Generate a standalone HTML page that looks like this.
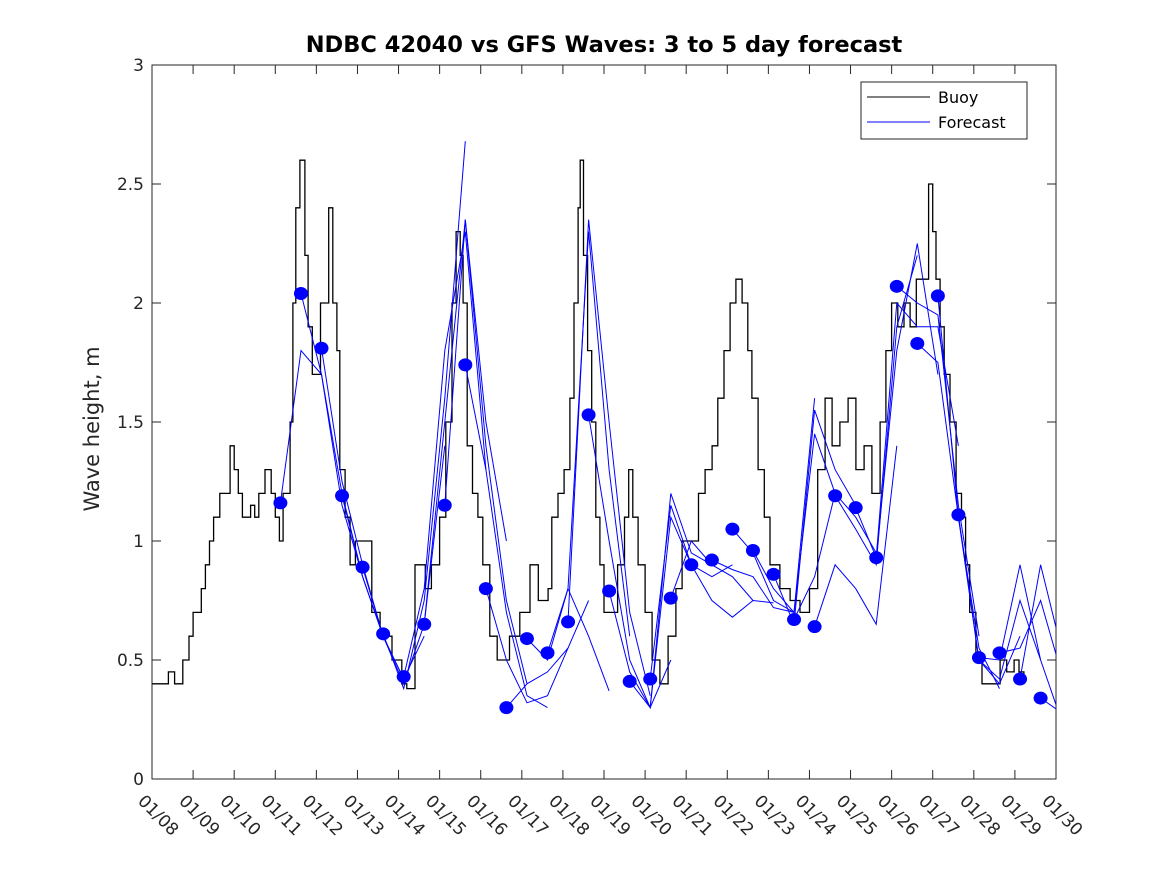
<!DOCTYPE html>
<html><head><meta charset="utf-8"><style>
body{margin:0;background:#fff;}
svg{display:block;font-family:"DejaVu Sans","Liberation Sans",sans-serif;}
</style></head><body>
<svg id="chart" width="1167" height="875" viewBox="0 0 1167 875" xmlns="http://www.w3.org/2000/svg">
<rect x="0" y="0" width="1167" height="875" fill="#fff"/>
<text x="604" y="52" text-anchor="middle" font-size="22.5" font-weight="bold" fill="#000">NDBC 42040 vs GFS Waves: 3 to 5 day forecast</text>
<text transform="translate(99,429) rotate(-90)" text-anchor="middle" font-size="21" fill="#262626">Wave height, m</text>
<g id="axes"></g>
<g id="plot"></g>
<g>
<rect x="861" y="82" width="166" height="57" fill="#fff" stroke="#262626" stroke-width="1"/>
<line x1="867" y1="97" x2="930" y2="97" stroke="#000" stroke-width="1"/>
<text x="938" y="103" font-size="16" fill="#000">Buoy</text>
<line x1="867" y1="122" x2="930" y2="122" stroke="#0000ff" stroke-width="1"/>
<text x="938" y="128" font-size="16" fill="#000">Forecast</text>
</g>
</svg>
<script>
const xTickLabels=["01/08","01/09","01/10","01/11","01/12","01/13","01/14","01/15","01/16","01/17","01/18","01/19","01/20","01/21","01/22","01/23","01/24","01/25","01/26","01/27","01/28","01/29","01/30"];
const yTicks=[0,0.5,1,1.5,2,2.5,3];
const yTickLabels=["0","0.5","1","1.5","2","2.5","3"];
const buoyDays=[0,0.4,0.55,0.75,0.9,1.0,1.2,1.3,1.4,1.5,1.65,1.9,2.0,2.1,2.2,2.4,2.5,2.6,2.75,2.9,3.0,3.1,3.19,3.36,3.43,3.5,3.6,3.72,3.8,3.9,4.0,4.1,4.3,4.4,4.5,4.57,4.7,4.82,4.95,5.2,5.35,5.55,5.84,6.08,6.2,6.4,6.65,6.8,7.0,7.15,7.3,7.4,7.5,7.57,7.67,7.8,7.93,8.05,8.22,8.4,8.6,8.7,8.95,9.2,9.4,9.64,9.73,9.88,10.03,10.17,10.27,10.37,10.42,10.5,10.6,10.7,10.8,10.9,11.0,11.2,11.33,11.5,11.6,11.7,11.83,12.0,12.17,12.36,12.56,12.75,12.9,13.1,13.3,13.46,13.63,13.77,13.92,14.07,14.21,14.36,14.5,14.6,14.75,14.9,15.04,15.28,15.53,15.77,16.0,16.2,16.38,16.55,16.74,16.94,17.13,17.33,17.52,17.72,17.86,18.0,18.15,18.3,18.45,18.6,18.74,18.9,19.0,19.08,19.18,19.28,19.42,19.57,19.7,19.8,19.9,20.05,20.2,20.4,20.64,20.8,20.98,21.1,21.22];
const buoyValues=[0.4,0.45,0.4,0.5,0.6,0.7,0.8,0.9,1.0,1.1,1.2,1.4,1.3,1.2,1.1,1.15,1.1,1.2,1.3,1.2,1.1,1.0,1.2,1.5,2.0,2.4,2.6,2.2,1.9,1.7,1.7,2.0,2.4,2.0,1.8,1.3,1.1,0.9,1.0,1.0,0.7,0.6,0.5,0.4,0.38,0.9,0.8,0.9,1.1,1.5,2.0,2.3,2.2,2.0,1.4,1.2,1.1,0.9,0.6,0.5,0.5,0.6,0.7,0.9,0.75,0.8,1.1,1.2,1.3,1.6,2.0,2.4,2.6,2.2,1.8,1.5,1.1,0.9,0.7,0.7,0.9,1.1,1.3,1.1,0.9,0.7,0.5,0.4,0.6,0.8,1.0,1.0,1.2,1.3,1.4,1.6,1.8,2.0,2.1,2.0,1.8,1.6,1.3,1.1,0.9,0.8,0.75,0.7,0.8,1.3,1.6,1.4,1.5,1.6,1.3,1.4,1.2,1.5,1.8,2.0,1.9,2.0,1.9,2.1,2.1,2.5,2.3,2.1,1.9,1.7,1.5,1.2,1.1,0.9,0.7,0.5,0.4,0.4,0.5,0.45,0.5,0.45,0.4];
const forecastStart=3.125;
const dotValues=[1.16,2.04,1.81,1.19,0.89,0.61,0.43,0.65,1.15,1.74,0.80,0.30,0.59,0.53,0.66,1.53,0.79,0.41,0.42,0.76,0.90,0.92,1.05,0.96,0.86,0.67,0.64,1.19,1.14,0.93,2.07,1.83,2.03,1.11,0.51,0.53,0.42,0.34];
const forecastValues=[
[1.16,1.8,1.7,1.2,0.85],[2.04,1.7,1.15,0.85,0.6],[1.81,1.25,0.9,0.6,0.42],[1.19,0.85,0.6,0.42,0.6],
[0.89,0.6,0.4,0.65,1.4],[0.61,0.38,0.75,1.6,2.68],[0.43,0.8,1.8,2.3,1.3],[0.65,1.5,2.35,1.5,1.0],
[1.15,2.35,1.4,0.75,0.4],[1.74,1.3,0.7,0.35,0.3],[0.8,0.5,0.32,0.35,0.55],[0.30,0.4,0.45,0.55,0.75],
[0.59,0.5,0.8,0.6,0.37],[0.53,0.8,2.3,1.3,0.6],[0.66,2.35,1.5,0.7,0.35],[1.53,1.0,0.5,0.3,0.5],
[0.79,0.45,0.3,1.1,0.9],[0.41,0.3,1.2,0.95,0.9],[0.42,1.15,0.9,0.85,0.9],[0.76,1.0,0.9,0.85,0.75],
[0.90,0.75,0.68,0.75,0.74],[0.92,0.88,0.85,0.72,0.7],[1.05,0.95,0.75,0.7,1.6],[0.96,0.8,0.7,1.45,1.2],
[0.86,0.65,1.55,1.3,1.15],[0.67,0.85,1.2,1.1,0.95],[0.64,0.9,0.8,0.65,1.4],[1.19,1.05,0.9,1.9,2.2],
[1.14,0.93,1.8,2.25,1.7],[0.93,2.0,1.9,1.9,1.4],[2.07,2.0,1.95,1.15,0.6],[1.83,1.75,1.1,0.55,0.38],
[2.03,1.1,0.5,0.4,0.6],[1.11,0.5,0.42,0.75,0.5],[0.51,0.5,0.9,0.5,0.25],[0.53,0.55,0.75,0.45,0.2],
[0.42,0.9,0.55],[0.34,0.28,0.2]];
const X0=152,X1=1056,Y0=779,Y1=65,DAYS=22,YMAX=3;
const xs=d=>X0+(X1-X0)*d/DAYS;
const ys=v=>Y0-(Y0-Y1)*v/YMAX;
const NS="http://www.w3.org/2000/svg";
const axes=document.getElementById('axes'),plot=document.getElementById('plot');
function mk(t,a,p){const e=document.createElementNS(NS,t);for(const k in a)e.setAttribute(k,a[k]);p.appendChild(e);return e;}
const defs=mk('defs',{},plot);
const cp=mk('clipPath',{id:'clip'},defs);mk('rect',{x:X0,y:Y1,width:X1-X0,height:Y0-Y1},cp);
const frame=mk('rect',{x:X0,y:Y1,width:X1-X0,height:Y0-Y1,fill:'none',stroke:'#262626','stroke-width':1},axes);


xTickLabels.forEach((lab,i)=>{const x=xs(i);
 mk('line',{x1:x,y1:Y0,x2:x,y2:Y0-9,stroke:'#262626'},axes);
 mk('line',{x1:x,y1:Y1,x2:x,y2:Y1+9,stroke:'#262626'},axes);
 const t=mk('text',{x:0,y:0,transform:`translate(${x-15},${802}) rotate(45)`,'font-size':17,fill:'#262626'},axes);
 t.textContent=lab;
 
 
});
yTicks.forEach((v,i)=>{const y=ys(v);
 mk('line',{x1:X0,y1:y,x2:X0+9,y2:y,stroke:'#262626'},axes);
 mk('line',{x1:X1,y1:y,x2:X1-9,y2:y,stroke:'#262626'},axes);
 const t=mk('text',{x:X0-8,y:y+6,'text-anchor':'end','font-size':17,fill:'#262626'},axes);
 t.textContent=yTickLabels[i];
 
 
});
const g=mk('g',{'clip-path':'url(#clip)'},plot);
let d='';buoyDays.forEach((dd,i)=>{const x=xs(dd).toFixed(1),y=ys(buoyValues[i]).toFixed(1);
 if(i===0)d+=`M${x},${y}`;else d+=`H${x}V${y}`;});
const bl=mk('path',{d:d,fill:'none',stroke:'#000','stroke-width':1.3},g);


forecastValues.forEach((arr,k)=>{const s=forecastStart+0.5*k;
 const pts=arr.map((v,j)=>xs(s+0.5*j).toFixed(1)+','+ys(v).toFixed(1)).join(' ');
 const p=mk('polyline',{points:pts,fill:'none',stroke:'#0000ff','stroke-width':1},g);
 
 
});
dotValues.forEach((v,k)=>{
 const c=mk('ellipse',{cx:xs(forecastStart+0.5*k),cy:ys(v),rx:7,ry:6.5,fill:'#0000ff'},g);
 
 
});
</script>
</body></html>
